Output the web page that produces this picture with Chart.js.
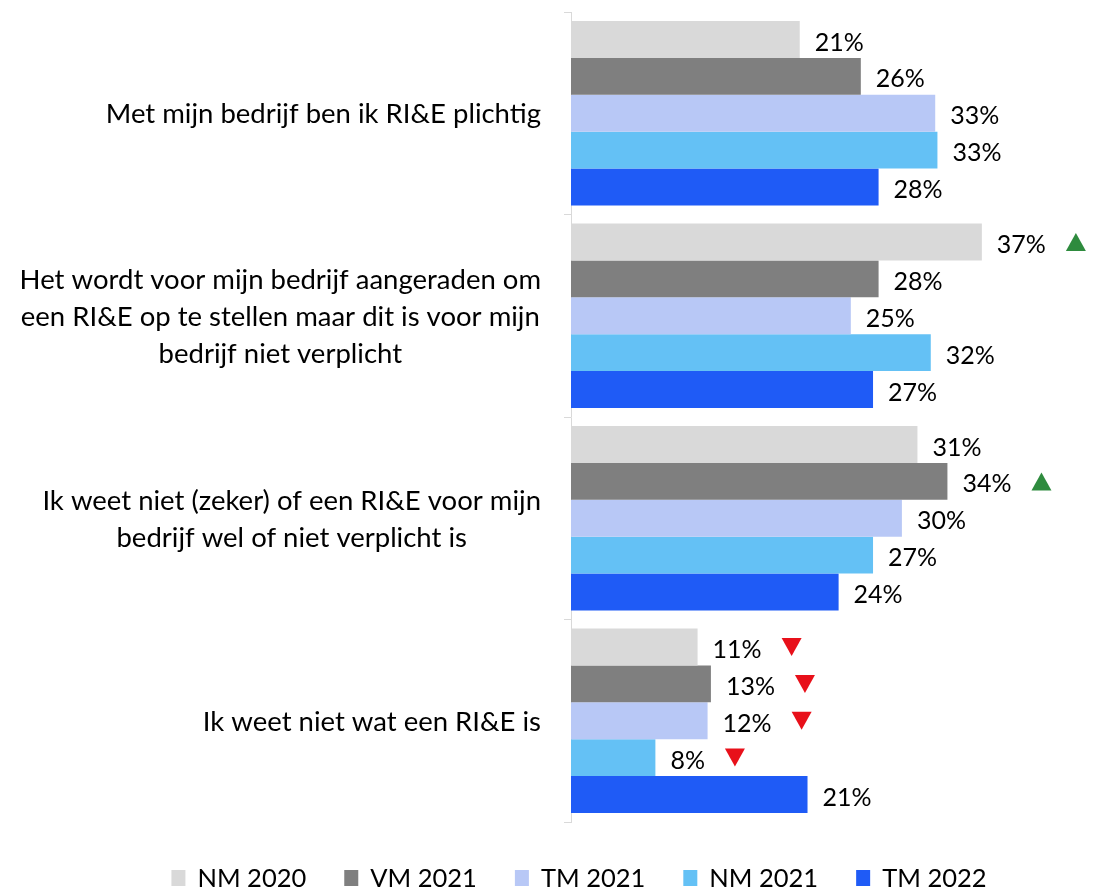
<!DOCTYPE html>
<html lang="nl">
<head>
<meta charset="UTF-8">
<title>RI&amp;E plicht</title>
<style>
  body { margin: 0; padding: 0; background: #fff; }
  #chart { display: block; }
</style>
</head>
<body>
<canvas id="chart" width="1104" height="888"></canvas>

<script src="https://cdn.jsdelivr.net/npm/chart.js"></script>
<script>
  // categories (each one as its lines of text)
  const categories = [
    ['Met mijn bedrijf ben ik RI&E plichtig'],
    ['Het wordt voor mijn bedrijf aangeraden om', 'een RI&E op te stellen maar dit is voor mijn', 'bedrijf niet verplicht'],
    ['Ik weet niet (zeker) of een RI&E voor mijn', 'bedrijf wel of niet verplicht is'],
    ['Ik weet niet wat een RI&E is']
  ];

  const seriesNames = ['NM 2020', 'VM 2021', 'TM 2021', 'NM 2021', 'TM 2022'];

  // values in %
  const nm2020 = [20.6, 37.0, 31.2, 11.4];
  const vm2021 = [26.1, 27.7, 33.9, 12.6];
  const tm2021 = [32.8, 25.2, 29.8, 12.3];
  const nm2021 = [33.0, 32.4, 27.2, 7.6];
  const tm2022 = [27.7, 27.2, 24.1, 21.3];

  // significance markers: 'up' = green, 'down' = red
  const nm2020Marks = [null, 'up', null, 'down'];
  const vm2021Marks = [null, null, 'up', 'down'];
  const tm2021Marks = [null, null, null, 'down'];
  const nm2021Marks = [null, null, null, 'down'];
  const tm2022Marks = [null, null, null, null];

  const colors = ['#d9d9d9', '#7f7f7f', '#b8c8f6', '#64c1f5', '#1f5bf6'];
  const FONT = 'Lato, "Noto Sans", sans-serif';
  const CAT_FS = 27.5;
  const VAL_FS = 25;
  const LEG_FS = 25.5;

  const seriesData = [nm2020, vm2021, tm2021, nm2021, tm2022];
  const seriesMarks = [nm2020Marks, vm2021Marks, tm2021Marks, nm2021Marks, tm2022Marks];

  // category labels: block right aligned, lines centered in the block
  const categoryLabels = {
    id: 'categoryLabels',
    afterDraw(chart) {
      const ctx = chart.ctx;
      const y = chart.scales.y;
      const right = chart.chartArea.left - 30;
      const lh = 37;
      ctx.save();
      ctx.font = CAT_FS + 'px ' + FONT;
      ctx.fillStyle = '#000';
      ctx.textAlign = 'center';
      ctx.textBaseline = 'middle';
      categories.forEach((lines, i) => {
        const w = Math.max(...lines.map(l => ctx.measureText(l).width));
        const cx = right - w / 2;
        const cy = y.getPixelForValue(i);
        const top = cy - (lines.length - 1) * lh / 2;
        lines.forEach((l, k) => ctx.fillText(l, cx, top + k * lh + 1));
      });
      ctx.restore();
    }
  };

  // value labels and triangles
  const valueLabels = {
    id: 'valueLabels',
    afterDatasetsDraw(chart) {
      const ctx = chart.ctx;
      ctx.save();
      ctx.font = VAL_FS + 'px ' + FONT;
      ctx.textBaseline = 'middle';
      ctx.textAlign = 'left';
      chart.data.datasets.forEach((ds, di) => {
        const meta = chart.getDatasetMeta(di);
        meta.data.forEach((bar, i) => {
          const txt = Math.round(ds.data[i]) + '%';
          const tx = bar.x + 15;
          ctx.fillStyle = '#000';
          ctx.fillText(txt, tx, bar.y + 3);
          const mark = seriesMarks[di][i];
          if (mark) {
            const mx = tx + ctx.measureText(txt).width + 30;
            const hw = 10, hh = 9;
            ctx.beginPath();
            if (mark === 'up') {
              ctx.fillStyle = '#2e8b3e';
              ctx.moveTo(mx - hw, bar.y + hh);
              ctx.lineTo(mx + hw, bar.y + hh);
              ctx.lineTo(mx, bar.y - hh);
            } else {
              ctx.fillStyle = '#e8101a';
              ctx.moveTo(mx - hw, bar.y - hh);
              ctx.lineTo(mx + hw, bar.y - hh);
              ctx.lineTo(mx, bar.y + hh);
            }
            ctx.closePath();
            ctx.fill();
          }
        });
      });
      ctx.restore();
    }
  };

  // legend drawn by hand so it sits like the original
  const bottomLegend = {
    id: 'bottomLegend',
    afterDraw(chart) {
      const ctx = chart.ctx;
      ctx.save();
      ctx.font = LEG_FS + 'px ' + FONT;
      ctx.textBaseline = 'middle';
      ctx.textAlign = 'left';
      const box = 14, gapIn = 12, gapOut = 38;
      const widths = seriesNames.map(n => box + gapIn + ctx.measureText(n).width);
      const total = widths.reduce((a, b) => a + b, 0) + gapOut * (widths.length - 1);
      let x = 579 - total / 2;
      const y = 878;
      seriesNames.forEach((n, i) => {
        ctx.fillStyle = colors[i];
        ctx.fillRect(x, y - 8, box, 16);
        ctx.fillStyle = '#000';
        ctx.fillText(n, x + box + gapIn, y + 1);
        x += widths[i] + gapOut;
      });
      ctx.restore();
    }
  };

  const chart = new Chart(document.getElementById('chart'), {
    type: 'bar',
    data: {
      labels: categories.map(c => c.join(' ')),
      datasets: seriesNames.map((name, i) => ({
        label: name,
        data: seriesData[i],
        backgroundColor: colors[i],
        borderWidth: 0,
        categoryPercentage: 0.91,
        barPercentage: 1
      }))
    },
    options: {
      indexAxis: 'y',
      responsive: false,
      animation: false,
      layout: { padding: { top: 12, bottom: 66, left: 0, right: 0 } },
      plugins: {
        legend: { display: false },
        tooltip: { enabled: false }
      },
      scales: {
        x: {
          display: false,
          min: 0,
          max: 48
        },
        y: {
          ticks: { display: false },
          grid: {
            offset: true,
            drawOnChartArea: false,
            drawTicks: true,
            tickLength: 7,
            color: '#d9d9d9'
          },
          border: { color: '#d9d9d9', width: 1 },
          afterFit(scale) { scale.width = 571; }
        }
      }
    },
    plugins: [categoryLabels, valueLabels, bottomLegend]
  });
</script>
</body>
</html>
